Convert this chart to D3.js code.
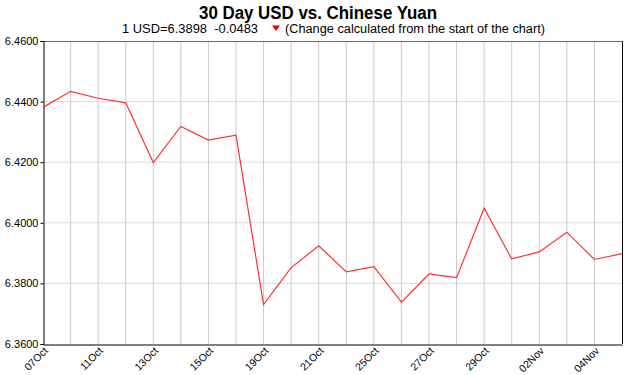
<!DOCTYPE html>
<html><head><meta charset="utf-8">
<script src="https://cdn.jsdelivr.net/npm/d3@7"></script>
<style>body{margin:0;background:#fff}svg{display:block}text{font-family:"Liberation Sans",Arial,sans-serif}</style>
</head><body>
<svg id="c" width="633" height="375"></svg>
<script>
const dates = ["07Oct","10Oct","11Oct","12Oct","13Oct","14Oct","15Oct","18Oct","19Oct","20Oct","21Oct","24Oct","25Oct","26Oct","27Oct","28Oct","29Oct","01Nov","02Nov","03Nov","04Nov","05Nov"];
const rates = [6.4381,6.4434,6.4411,6.4396,6.4199,6.4318,6.4273,6.4289,6.3730,6.3852,6.3924,6.3838,6.3855,6.3738,6.3831,6.3819,6.4048,6.3881,6.3904,6.3969,6.3879,6.3898];
const yTicks = [6.36,6.38,6.40,6.42,6.44,6.46];
const titleText = "30 Day USD vs. Chinese Yuan";
const subText1 = "1 USD=6.3898\u00a0\u00a0-0.0483";
const subText2 = "(Change calculated from the start of the chart)";

const svg = d3.select("#c");
const m = {l:43, r:622, t:41, b:344};
const x = d3.scalePoint().domain(dates).range([m.l, m.r]);
const y = d3.scaleLinear().domain([6.36, 6.46]).range([m.b, m.t]);

// horizontal grid
svg.append("g").selectAll("line").data(yTicks.slice(1,-1)).join("line")
  .attr("x1", m.l).attr("x2", m.r).attr("y1", d=>y(d)).attr("y2", d=>y(d))
  .attr("stroke", "#dcdcdc").attr("stroke-width", 1);
// vertical grid
svg.append("g").selectAll("line").data(dates.slice(1,-1)).join("line")
  .attr("x1", d=>x(d)).attr("x2", d=>x(d)).attr("y1", m.t).attr("y2", m.b)
  .attr("stroke", "#cccccc").attr("stroke-width", 1);

// frame
svg.append("line").attr("x1", m.l).attr("x2", m.r).attr("y1", m.t+0.5).attr("y2", m.t+0.5).attr("stroke", "#666");
svg.append("line").attr("x1", m.r+0.5).attr("x2", m.r+0.5).attr("y1", m.t).attr("y2", m.b).attr("stroke", "#000");

// y axis
const ya = svg.append("g").attr("transform", `translate(${m.l+0.5},0)`)
  .call(d3.axisLeft(y).tickValues(yTicks).tickFormat(d3.format(".4f")).tickSize(3).tickPadding(2));
ya.select(".domain").attr("stroke", "#000");
ya.selectAll(".tick line").attr("stroke", "#000");
ya.selectAll("text").attr("font-size", 11).attr("fill", "#000");

// x axis
const xa = svg.append("g").attr("transform", `translate(0,${m.b+0.5})`)
  .call(d3.axisBottom(x).tickValues(dates.filter((d,i)=>i%2===0 && i<21)).tickSize(0).tickSizeOuter(0));
xa.select(".domain").attr("stroke", "#000");
xa.selectAll("text").attr("font-size", 10.5).attr("fill", "#000")
  .attr("text-anchor", "end").attr("dy", 0).attr("dx", 0).attr("y", 0)
  .attr("transform", "translate(5,7) rotate(-45)");

// line
svg.append("path").datum(rates)
  .attr("d", d3.line().x((d,i)=>x(dates[i])).y(d=>y(d)))
  .attr("fill", "none").attr("stroke", "#ff3030").attr("stroke-width", 1.2);

// title
svg.append("text").attr("x", 199).attr("y", 19)
  .attr("font-size", 17.5).attr("font-weight", "bold")
  .attr("textLength", 238).attr("lengthAdjust", "spacingAndGlyphs").text(titleText);
svg.append("text").attr("x", 122).attr("y", 33).attr("font-size", 12.5)
  .attr("textLength", 136).attr("lengthAdjust", "spacingAndGlyphs").text(subText1);
svg.append("path").attr("d", "M272,25.5L280,25.5L276,31Z").attr("fill", "#e00");
svg.append("text").attr("x", 285).attr("y", 33).attr("font-size", 12.5)
  .attr("textLength", 260).attr("lengthAdjust", "spacingAndGlyphs").text(subText2);
</script>
</body></html>
